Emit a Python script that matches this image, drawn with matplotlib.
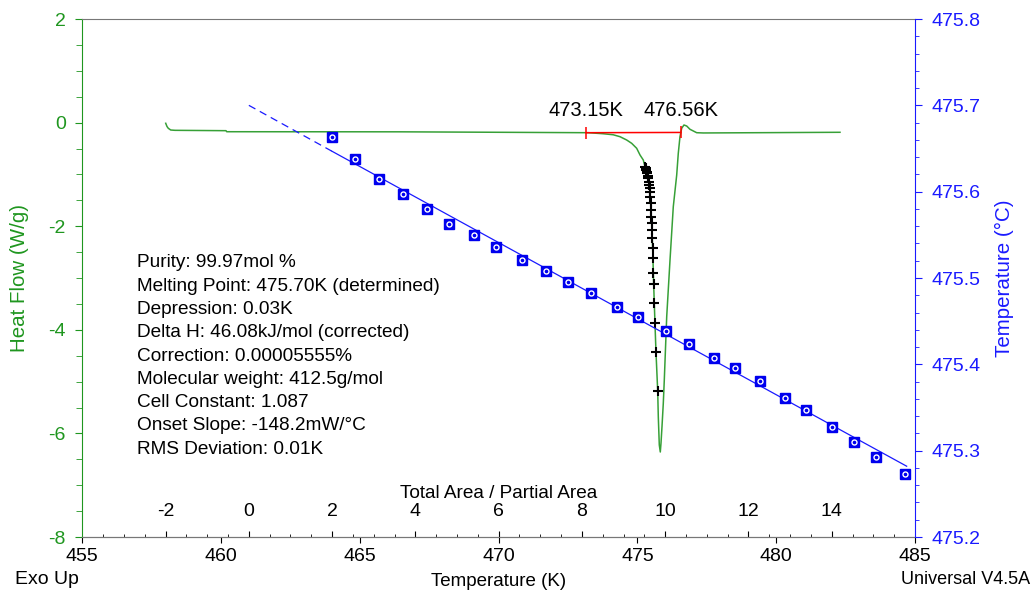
import matplotlib
matplotlib.use('Agg')
import matplotlib.pyplot as plt
from matplotlib.ticker import MultipleLocator, FormatStrFormatter

plt.rcParams['font.family'] = ['Liberation Sans', 'DejaVu Sans']
plt.rcParams['axes.unicode_minus'] = False

# heat flow signal (sample temperature K, W/g)
hf_temp = [458.005, 458.051, 458.098, 458.185, 458.340, 460.177, 460.202, 466.446,
           473.230, 473.770, 474.130, 474.372, 474.613, 474.793, 474.973, 475.093,
           475.211, 475.273, 475.333, 475.391, 475.441, 475.477, 475.513, 475.549,
           475.585, 475.632, 475.668, 475.730, 475.752, 475.788, 475.824, 475.849,
           475.885, 475.932, 475.968, 476.055, 476.174, 476.292, 476.415, 476.472,
           476.533, 476.595, 476.677, 476.775, 476.893, 477.135, 477.373, 482.298]
hf_flow = [-0.013, -0.075, -0.110, -0.143, -0.149, -0.156, -0.176, -0.178,
           -0.195, -0.215, -0.235, -0.272, -0.336, -0.400, -0.496, -0.625,
           -0.722, -0.851, -0.948, -1.075, -1.267, -1.556, -1.942, -2.425,
           -3.121, -3.876, -4.423, -5.176, -5.678, -6.224, -6.359, -6.191,
           -5.871, -5.419, -4.969, -3.747, -2.653, -1.624, -1.012, -0.593,
           -0.272, -0.110, -0.046, -0.066, -0.129, -0.195, -0.200, -0.187]

# partial area points
pa_temp = [475.273, 475.298, 475.319, 475.333, 475.355, 475.380, 475.391, 475.416,
           475.427, 475.441, 475.452, 475.463, 475.477, 475.488, 475.499, 475.513,
           475.524, 475.535, 475.549, 475.551, 475.571, 475.585, 475.607, 475.632,
           475.668, 475.730]
pa_flow = [-0.851, -0.882, -0.915, -0.948, -0.979, -1.031, -1.075, -1.139,
           -1.203, -1.267, -1.331, -1.428, -1.556, -1.685, -1.815, -1.942,
           -2.072, -2.232, -2.425, -2.620, -2.897, -3.121, -3.477, -3.876,
           -4.423, -5.176]

# purity plot: total area / partial area vs temperature
inv_f = [1.990, 2.550, 3.126, 3.703, 4.279, 4.807, 5.401, 5.943, 6.553, 7.130,
         7.665, 8.211, 8.835, 9.347, 10.027, 10.572, 11.172, 11.669, 12.270,
         12.885, 13.382, 14.007, 14.527, 15.070, 15.767]
t_corr = [475.6633, 475.6382, 475.6150, 475.5969, 475.5799, 475.5629, 475.5498,
          475.5363, 475.5214, 475.5081, 475.4953, 475.4823, 475.4664, 475.4545,
          475.4390, 475.4233, 475.4079, 475.3957, 475.3807, 475.3613, 475.3471,
          475.3271, 475.3104, 475.2930, 475.2726]

fit_area = [0.0, 1.99, 15.80]
fit_temp = [475.700, 475.647, 475.282]

limits_k = [473.15, 476.56]
limits_hf = [-0.195, -0.19]

info = ['Purity: 99.97mol %',
        'Melting Point: 475.70K (determined)',
        'Depression: 0.03K',
        'Delta H: 46.08kJ/mol (corrected)',
        'Correction: 0.00005555%',
        'Molecular weight: 412.5g/mol',
        'Cell Constant: 1.087',
        'Onset Slope: -148.2mW/\u00b0C',
        'RMS Deviation: 0.01K']

green = '#1f961f'
green_line = '#37a037'
blue = '#1a1aff'
grey = '#777777'


def area_to_k(a):
    return 461 + 1.5 * a


def k_to_area(k):
    return (k - 461) / 1.5


fig = plt.figure(figsize=(10.34, 5.92), dpi=100)
ax = fig.add_axes([0.0796, 0.0929, 0.8053, 0.875])

ax.plot(hf_temp, hf_flow, color=green_line, lw=1.1, zorder=2)
ax.plot(limits_k, limits_hf, color='red', lw=1.1, marker='|', ms=9, mew=1.1, zorder=3)
ax.plot(pa_temp, pa_flow, ls='none', marker='+', color='black', ms=7.5, mew=1.5, zorder=4)
for k in limits_k:
    ax.text(k, 0.05, f'{k:.2f}K', ha='center', va='bottom', fontsize=14.5)

for i, line in enumerate(info):
    ax.text(0.0657, 0.529 - i * 0.0449, line, transform=ax.transAxes,
            ha='left', va='center', fontsize=13.7)

ax.set_xlim(455, 485)
ax.set_ylim(-8, 2)
ax.xaxis.set_major_locator(MultipleLocator(5))
ax.yaxis.set_major_locator(MultipleLocator(2))
ax.yaxis.set_minor_locator(MultipleLocator(0.5))
ax.tick_params(axis='y', which='both', colors=green, labelsize=14, pad=7)
ax.tick_params(axis='y', which='major', length=5)
ax.tick_params(axis='y', which='minor', length=4)
ax.tick_params(axis='x', colors='black', labelsize=14, length=4, pad=4)
ax.set_ylabel('Heat Flow (W/g)', color=green, fontsize=14.8, labelpad=14)
ax.set_xlabel('Temperature (K)', fontsize=13.5, labelpad=6)
ax.spines['left'].set_color(green)
ax.spines['top'].set_color(grey)
ax.spines['bottom'].set_color(grey)
ax.spines['right'].set_visible(False)

ax2 = ax.twinx()
ax2.plot([area_to_k(a) for a in fit_area[:2]], fit_temp[:2], color=blue, lw=0.9,
         ls=(0, (6, 4)))
ax2.plot([area_to_k(a) for a in fit_area[1:]], fit_temp[1:], color=blue, lw=0.9)
ax2.plot([area_to_k(a) for a in inv_f], t_corr, ls='none', marker='s', ms=7.5,
         mfc='#0000ee', mec='#0000ee')
ax2.plot([area_to_k(a) for a in inv_f], t_corr, ls='none', marker='o', ms=3.6,
         mfc='#0000ee', mec='white', mew=1.0)
ax2.set_ylim(475.2, 475.8)
ax2.yaxis.set_major_locator(MultipleLocator(0.1))
ax2.yaxis.set_minor_locator(MultipleLocator(0.02))
ax2.yaxis.set_major_formatter(FormatStrFormatter('%.1f'))
ax2.tick_params(axis='y', which='both', colors=blue, labelsize=14, pad=7)
ax2.tick_params(axis='y', which='major', length=5)
ax2.tick_params(axis='y', which='minor', length=3)
ax2.set_ylabel('Temperature (\u00b0C)', color=blue, fontsize=14.8, labelpad=10)
ax2.spines['right'].set_color(blue)
for s in ['left', 'top', 'bottom']:
    ax2.spines[s].set_visible(False)

sec = ax.secondary_xaxis(0.0, functions=(k_to_area, area_to_k))
sec.set_alignment('top')
sec.set_xticks(list(range(-2, 15, 2)))
sec.xaxis.set_minor_locator(MultipleLocator(0.5))
sec.tick_params(which='major', length=4, colors='black', labelsize=14, pad=8)
sec.tick_params(which='minor', length=2.5, colors='black')
sec.spines['top'].set_color(grey)
sec.set_xlabel('Total Area / Partial Area', fontsize=13.7, labelpad=4)

fig.text(0.0145, 0.0203, 'Exo Up', ha='left', va='center', fontsize=14)
fig.text(0.996, 0.0203, 'Universal V4.5A', ha='right', va='center', fontsize=13)

fig.savefig('out.png', dpi=100)
